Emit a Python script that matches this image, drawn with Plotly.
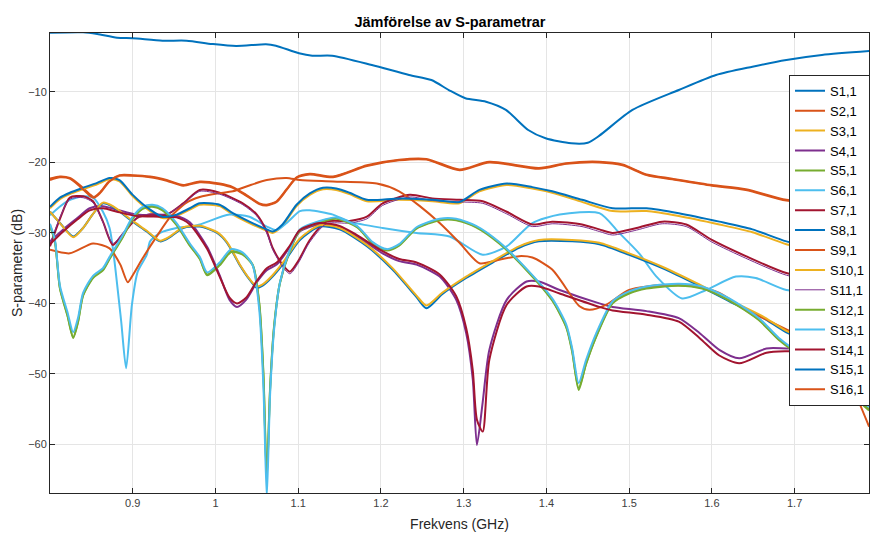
import plotly.graph_objects as go

# ---------------- data (GHz, dB) ----------------
f_s1 = [0.800, 0.840, 0.857, 0.881, 0.900, 0.936, 0.965, 0.996, 1.025, 1.061, 1.073, 1.101, 1.117, 1.141,
        1.189, 1.234, 1.261, 1.282, 1.302, 1.327, 1.351, 1.378, 1.399, 1.430, 1.450, 1.464, 1.504, 1.560,
        1.605, 1.649, 1.690, 1.733, 1.790]
s1 = [-1.59, -1.53, -1.77, -2.30, -2.38, -2.72, -2.72, -3.19, -3.48, -3.23, -3.43, -4.51, -4.85, -4.85,
      -6.17, -7.59, -8.30, -9.72, -10.89, -11.38, -12.55, -15.39, -16.57, -17.28, -17.2, -16.2, -12.55, -9.72,
      -7.59, -6.41, -5.46, -4.75, -4.2]

f_s2 = [0.800, 0.812, 0.824, 0.836, 0.848, 0.853, 0.860, 0.872, 0.884, 0.900, 0.921, 0.941, 0.961, 0.981,
        1.005, 1.021, 1.037, 1.053, 1.062, 1.074, 1.086, 1.098, 1.114, 1.142, 1.183, 1.222, 1.255, 1.295,
        1.331, 1.391, 1.424, 1.464, 1.492, 1.521, 1.552, 1.600, 1.641, 1.690, 1.740, 1.790]
s2 = [-22.3, -22.0, -22.2, -23.2, -24.5, -24.9, -24.3, -22.6, -21.8, -21.8, -22.0, -22.5, -23.2, -22.7,
      -23.0, -23.5, -24.6, -25.8, -26.0, -25.5, -23.8, -22.1, -21.6, -22.0, -20.4, -19.6, -19.5, -21.0,
      -19.9, -20.8, -20.1, -19.9, -20.3, -21.7, -22.3, -23.2, -23.8, -25.3, -25.6, -26.2]
s16 = [-22.5, -22.1, -22.3, -23.4, -24.7, -25.0, -24.4, -22.7, -21.9, -21.9, -22.1, -22.6, -23.3, -22.8,
       -23.1, -23.6, -24.7, -25.9, -26.1, -25.6, -23.9, -22.2, -21.7, -22.1, -20.5, -19.7, -19.6, -21.1,
       -20.0, -20.9, -20.2, -20.0, -20.4, -21.8, -22.4, -23.3, -23.9, -25.4, -25.7, -26.3]

f_s9 = [0.800, 0.824, 0.852, 0.872, 0.885, 0.894, 0.900, 0.912, 0.929, 0.945, 0.965, 0.981, 1.002, 1.021,
        1.040, 1.062, 1.086, 1.102, 1.142, 1.195, 1.222, 1.247, 1.271, 1.295, 1.319, 1.343, 1.367, 1.383,
        1.407, 1.440, 1.452, 1.472, 1.500, 1.540, 1.581, 1.609, 1.641, 1.666, 1.690, 1.740, 1.766, 1.790]
s9 = [-32.4, -32.9, -31.5, -32.2, -34.5, -37.0, -36.0, -33.6, -30.5, -27.8, -25.7, -24.9, -24.4, -24.1,
      -23.3, -22.5, -22.2, -22.5, -22.7, -23.0, -24.1, -26.2, -28.6, -31.4, -34.3, -33.8, -33.3, -33.5,
      -35.2, -40.4, -40.9, -40.2, -38.1, -37.4, -37.6, -38.5, -40.9, -42.3, -43.7, -46.5, -51.0, -57.5]

f_a = [0.800, 0.812, 0.824, 0.840, 0.857, 0.872, 0.884, 0.900, 0.921, 0.936, 0.953, 0.969, 0.981, 1.005,
       1.021, 1.041, 1.062, 1.069, 1.081, 1.098, 1.114, 1.130, 1.146, 1.162, 1.183, 1.222, 1.262, 1.295,
       1.319, 1.352, 1.383, 1.407, 1.443, 1.480, 1.521, 1.560, 1.609, 1.649, 1.690, 1.740, 1.790]
s3 = [-26.5, -25.2, -24.5, -23.8, -23.1, -22.4, -22.7, -24.8, -26.9, -27.9, -27.6, -26.7, -26.0, -26.2,
      -27.4, -28.6, -29.7, -30.0, -29.0, -26.2, -24.6, -23.8, -23.9, -24.5, -25.5, -25.3, -25.5, -25.8,
      -24.1, -23.2, -23.7, -24.3, -25.6, -26.9, -26.9, -27.6, -28.8, -29.9, -31.6, -32.9, -34.2]
s15 = [-26.3, -25.0, -24.3, -23.6, -22.9, -22.2, -22.5, -24.6, -26.7, -27.7, -27.4, -26.5, -25.8, -26.0,
       -27.2, -28.4, -29.5, -29.8, -28.8, -26.0, -24.4, -23.6, -23.7, -24.3, -25.3, -25.1, -25.3, -25.6,
       -23.9, -23.0, -23.5, -24.1, -25.3, -26.5, -26.5, -27.2, -28.4, -29.5, -31.2, -32.5, -33.8]

f_b = [0.800, 0.812, 0.828, 0.840, 0.852, 0.864, 0.876, 0.900, 0.917, 0.933, 0.945, 0.961, 0.981, 1.002,
       1.014, 1.029, 1.041, 1.050, 1.057, 1.069, 1.081, 1.102, 1.126, 1.150, 1.183, 1.214, 1.243, 1.255,
       1.274, 1.303, 1.335, 1.367, 1.391, 1.431, 1.464, 1.500, 1.540, 1.581, 1.621, 1.661, 1.690, 1.740, 1.790]
s8 = [-27.0, -28.6, -30.5, -29.3, -27.3, -25.8, -26.3, -28.4, -29.8, -31.2, -30.6, -29.3, -29.1, -30.0,
      -31.4, -34.5, -36.6, -37.8, -37.5, -36.2, -34.5, -31.0, -29.1, -29.5, -31.9, -35.2, -39.1, -40.7,
      -38.7, -36.4, -34.2, -32.1, -31.2, -31.2, -31.6, -33.1, -35.0, -37.3, -39.7, -42.0, -44.1, -46.5, -49.0]
s10 = [-27.0, -28.6, -30.6, -29.3, -27.3, -25.7, -26.2, -28.3, -29.7, -31.1, -30.5, -29.2, -29.0, -29.9,
       -31.3, -34.4, -36.5, -37.6, -37.3, -36.0, -34.3, -30.8, -28.9, -29.3, -31.7, -35.0, -38.9, -40.3,
       -38.5, -36.2, -34.0, -31.9, -31.0, -31.0, -31.4, -32.9, -34.8, -37.1, -39.5, -41.8, -43.9, -46.2, -48.7]

f_pa = [0.800, 0.816, 0.833, 0.848, 0.864, 0.881, 0.905, 0.933, 0.953, 0.969, 0.990, 1.005, 1.017, 1.026,
        1.037, 1.050, 1.062, 1.074, 1.090, 1.102, 1.126, 1.150, 1.171, 1.202, 1.222, 1.243, 1.271, 1.291,
        1.303, 1.311, 1.316, 1.323, 1.331, 1.352, 1.376, 1.391, 1.416, 1.464, 1.480, 1.521, 1.560, 1.585,
        1.609, 1.633, 1.666, 1.690, 1.740, 1.790]
s4 = [-31.2, -29.5, -27.9, -26.5, -26.2, -26.7, -27.4, -27.5, -27.6, -28.5, -32.0, -36.0, -39.5, -40.5,
      -39.5, -37.0, -35.3, -34.5, -32.0, -29.8, -28.8, -29.2, -30.5, -32.9, -34.0, -34.5, -36.2, -39.5,
      -44.2, -50.8, -60.1, -54.0, -46.6, -39.5, -36.9, -36.9, -38.1, -40.0, -40.5, -41.1, -42.1, -44.2,
      -46.6, -47.8, -46.4, -46.4, -46.5, -47.0]
s14 = [-31.6, -29.8, -28.1, -26.8, -26.5, -27.0, -27.6, -27.7, -27.8, -28.8, -32.3, -36.2, -39.2, -40.0,
       -39.2, -36.8, -35.0, -34.2, -31.8, -29.6, -28.6, -29.0, -30.3, -32.6, -33.7, -34.2, -35.9, -39.0,
       -43.5, -49.5, -56.5, -58.2, -48.0, -40.2, -37.6, -37.6, -38.6, -40.5, -41.0, -41.6, -42.6, -44.9,
       -47.4, -48.5, -47.0, -46.8, -46.9, -47.4]

f_pb = [0.800, 0.812, 0.824, 0.840, 0.852, 0.864, 0.876, 0.888, 0.905, 0.921, 0.941, 0.961, 0.981, 1.005,
        1.033, 1.050, 1.062, 1.069, 1.081, 1.090, 1.100, 1.114, 1.134, 1.162, 1.183, 1.202, 1.235, 1.262,
        1.295, 1.323, 1.352, 1.383, 1.407, 1.443, 1.464, 1.480, 1.509, 1.540, 1.569, 1.600, 1.641, 1.690,
        1.740, 1.790]
s7 = [-31.9, -28.0, -25.0, -24.8, -25.5, -28.4, -31.7, -30.2, -27.9, -27.4, -27.4, -25.8, -23.9, -24.3,
      -25.8, -27.4, -29.8, -32.1, -34.5, -35.5, -34.0, -31.0, -28.4, -28.3, -27.7, -25.8, -24.6, -25.1,
      -25.3, -25.5, -27.0, -28.8, -28.4, -28.8, -29.5, -30.0, -29.3, -28.4, -28.8, -31.0, -33.3, -35.7,
      -36.8, -38.0]
s11 = [-31.6, -27.8, -25.2, -25.0, -25.7, -28.5, -31.5, -30.0, -27.8, -27.3, -27.3, -25.9, -24.1, -24.5,
       -26.0, -27.6, -30.0, -32.3, -34.8, -35.8, -34.3, -31.3, -28.7, -28.6, -28.0, -26.1, -24.9, -25.4,
       -25.6, -25.8, -27.3, -29.1, -28.7, -29.1, -29.8, -30.3, -29.6, -28.7, -29.1, -31.3, -33.6, -36.0,
       -37.1, -38.3]

f_g = [0.800, 0.806, 0.812, 0.821, 0.828, 0.834, 0.840, 0.852, 0.864, 0.872, 0.888, 0.900, 0.912, 0.924,
       0.936, 0.953, 0.969, 0.981, 0.990, 1.005, 1.019, 1.033, 1.045, 1.053, 1.058, 1.062, 1.066, 1.071,
       1.078, 1.090, 1.102, 1.126, 1.146, 1.171, 1.190, 1.207, 1.222, 1.243, 1.271, 1.291, 1.315, 1.343,
       1.376, 1.407, 1.424, 1.431, 1.439, 1.448, 1.460, 1.480, 1.500, 1.521, 1.560, 1.588, 1.621, 1.657,
       1.681, 1.720, 1.760, 1.790]
s5 = [-28.9, -31.2, -37.8, -41.6, -44.8, -42.5, -38.8, -36.3, -35.2, -33.6, -30.5, -27.9, -26.5, -26.2,
      -26.7, -28.8, -31.7, -33.6, -35.9, -34.5, -32.6, -33.0, -34.5, -40.0, -50.0, -64.7, -52.0, -43.0,
      -37.0, -32.5, -29.6, -28.4, -27.9, -29.1, -31.4, -32.4, -31.7, -29.3, -28.1, -28.1, -29.1, -31.4,
      -35.2, -39.5, -43.3, -46.6, -52.3, -48.5, -44.7, -39.9, -38.5, -37.8, -37.4, -37.8, -39.5, -42.3,
      -45.1, -48.5, -52.0, -55.0]
s12 = [-29.0, -31.3, -37.9, -41.7, -44.9, -42.6, -38.9, -36.4, -35.3, -33.7, -30.6, -28.0, -26.6, -26.3,
       -26.8, -28.9, -31.8, -33.7, -36.0, -34.6, -32.7, -33.1, -34.6, -40.2, -50.5, -65.0, -52.3, -43.2,
       -37.1, -32.6, -29.7, -28.5, -28.0, -29.2, -31.5, -32.5, -31.8, -29.4, -28.2, -28.2, -29.2, -31.5,
       -35.3, -39.6, -43.4, -46.8, -52.0, -48.6, -44.8, -40.0, -38.6, -37.9, -37.5, -37.9, -39.6, -42.4,
       -45.2, -48.6, -52.1, -55.2]
s13 = [-28.7, -31.0, -37.5, -41.2, -44.1, -42.0, -38.5, -36.1, -35.0, -33.4, -30.3, -27.7, -26.3, -26.0,
       -26.5, -28.6, -31.5, -33.4, -35.6, -34.2, -32.3, -32.8, -34.6, -41.0, -52.0, -67.5, -53.0, -43.5,
       -37.0, -32.4, -29.5, -28.3, -27.8, -29.0, -31.3, -32.3, -31.6, -29.2, -28.0, -28.0, -29.0, -31.3,
       -35.1, -39.3, -43.0, -46.3, -51.3, -48.0, -44.3, -39.7, -38.3, -37.6, -37.2, -37.6, -39.3, -42.1,
       -44.9, -48.3, -51.8, -54.7]

f_s6 = [0.800, 0.821, 0.840, 0.852, 0.864, 0.872, 0.877, 0.886, 0.892, 0.899, 0.906, 0.917, 0.921, 0.933,
        0.953, 0.969, 0.981, 1.017, 1.041, 1.062, 1.074, 1.086, 1.102, 1.114, 1.142, 1.162, 1.202, 1.243,
        1.283, 1.323, 1.352, 1.383, 1.416, 1.464, 1.488, 1.512, 1.533, 1.564, 1.593, 1.629, 1.653, 1.690,
        1.740, 1.790]
s6 = [-27.5, -25.5, -24.8, -25.0, -27.0, -29.3, -33.1, -42.5, -49.2, -40.2, -35.5, -33.1, -31.2, -30.0,
      -29.3, -29.1, -28.8, -27.4, -27.7, -29.1, -29.6, -28.6, -26.9, -26.8, -27.4, -28.4, -29.3, -30.0,
      -30.5, -33.1, -31.9, -28.6, -27.4, -27.2, -30.0, -32.9, -36.2, -39.3, -38.1, -36.2, -36.4, -38.1,
      -38.3, -38.5]

x_ticks = [0.9, 1.0, 1.1, 1.2, 1.3, 1.4, 1.5, 1.6, 1.7]
x_ticktext = ['0.9', '1', '1.1', '1.2', '1.3', '1.4', '1.5', '1.6', '1.7']
y_ticks = [-60, -50, -40, -30, -20, -10]

names = [f"S{i},1" for i in range(1, 17)]
xs = [f_s1, f_s2, f_a, f_pa, f_g, f_s6, f_pb, f_b, f_s9, f_b, f_pb, f_g, f_g, f_pa, f_a, f_s2]
ys = [s1, s2, s3, s4, s5, s6, s7, s8, s9, s10, s11, s12, s13, s14, s15, s16]

c = ['#0072BD', '#D95319', '#EDB120', '#7E2F8E', '#77AC30', '#4DBEEE', '#A2142F']
colors = [c[i % 7] for i in range(16)]
widths = [2] * 16
widths[10] = 1

fig = go.Figure()
for n, x, y, col, w in zip(names, xs, ys, colors, widths):
    fig.add_trace(go.Scatter(x=x, y=y, name=n, mode='lines',
                             line=dict(color=col, width=w, shape='spline', smoothing=0.7)))

FONT = 'Liberation Sans, Arial, sans-serif'
axcol = '#262626'
tickcol = '#404040'
fig.update_layout(
    width=870, height=534,
    margin=dict(l=50, r=0, t=33, b=41),
    paper_bgcolor='white', plot_bgcolor='white',
    font=dict(family=FONT, color=axcol),
    title=dict(text='<b>Jämförelse av S-parametrar</b>', x=450 / 870, xanchor='center',
               y=1 - 22 / 534, yanchor='middle', font=dict(size=14.5, color='black', family=FONT)),
    legend=dict(x=0.902, y=0.909, xanchor='left', yanchor='top', bgcolor='white',
                bordercolor=axcol, borderwidth=1, font=dict(size=13, color='black', family=FONT),
                tracegroupgap=0, itemwidth=30),
    showlegend=True,
)
fig.update_xaxes(range=[0.8, 1.7899], tickvals=x_ticks, ticktext=x_ticktext,
                 showgrid=True, gridcolor='#e5e5e5', gridwidth=1, zeroline=False,
                 showline=True, linecolor=axcol, linewidth=1, mirror='ticks',
                 ticks='inside', ticklen=5, tickcolor=axcol, tickfont=dict(size=11, color=tickcol),
                 title=dict(text='Frekvens (GHz)', font=dict(size=14, color=axcol), standoff=10))
fig.update_yaxes(range=[-66.91, -1.63], tickvals=y_ticks,
                 showgrid=True, gridcolor='#e5e5e5', gridwidth=1, zeroline=False,
                 showline=True, linecolor=axcol, linewidth=1, mirror='ticks',
                 ticks='inside', ticklen=5, tickcolor=axcol, tickfont=dict(size=11, color=tickcol),
                 title=dict(text='S-parameter (dB)', font=dict(size=14, color=axcol), standoff=2))

fig.write_html('out.html')
